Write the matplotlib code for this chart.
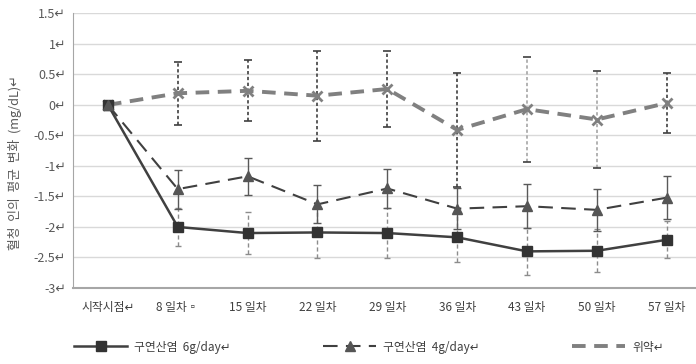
import numpy as np
import matplotlib
matplotlib.use("Agg")
import matplotlib.pyplot as plt
from matplotlib.lines import Line2D

plt.rcParams['font.family'] = ['Noto Sans CJK KR', 'DejaVu Sans']

# x categories
days = ["시작시점↵", "8 일차▫", "15 일차", "22 일차", "29 일차", "36 일차", "43 일차", "50 일차", "57 일차"]

# mean change (mg/dL) and error
dose6 = [0, -2.00, -2.10, -2.09, -2.10, -2.17, -2.40, -2.39, -2.21]
dose6_err = [0, 0.31, 0.34, 0.42, 0.41, 0.41, 0.39, 0.35, 0.30]
dose4 = [0, -1.38, -1.17, -1.63, -1.37, -1.70, -1.66, -1.72, -1.52]
dose4_err = [0, 0.32, 0.30, 0.31, 0.32, 0.33, 0.36, 0.34, 0.35]
placebo = [0, 0.19, 0.23, 0.15, 0.26, -0.41, -0.07, -0.24, 0.03]
placebo_err = [0, 0.52, 0.50, 0.74, 0.63, 0.93, 0.86, 0.79, 0.49]

yticks = [1.5, 1, 0.5, 0, -0.5, -1, -1.5, -2, -2.5, -3]

fig = plt.figure(figsize=(6.96, 3.64), dpi=100)
ax = fig.add_axes([73/696, 1-288/364, (701.7-73)/696, (288-13.3)/364])

x = np.arange(len(days))

# error bars
eb = ax.errorbar(x[1:], dose6[1:], yerr=dose6_err[1:], fmt='none', ecolor='#8c8c8c',
                 elinewidth=1.0, capsize=2.5, capthick=1.0, zorder=2)
eb[2][0].set_linestyle((0, (3, 2)))
eb = ax.errorbar(x[1:], dose4[1:], yerr=dose4_err[1:], fmt='none', ecolor='#595959',
                 elinewidth=1.0, capsize=3, capthick=1.0, zorder=2)
eb = ax.errorbar(x[1:], placebo[1:], yerr=placebo_err[1:], fmt='none', ecolor='#404040',
                 elinewidth=1.2, capsize=3, capthick=1.2, zorder=2)
eb[2][0].set_linestyle((0, (2, 1.5)))
eb[2][0].set_color(['#404040', '#404040', '#404040', '#404040', '#404040',
                    '#a6a6a6', '#a6a6a6', '#404040'])

# lines
l1, = ax.plot(x, dose6, color='#404040', lw=1.8, marker='s', ms=7,
              mfc='#333333', mec='#333333', zorder=4)
l2, = ax.plot(x, dose4, color='#404040', lw=1.5, ls=(0, (7, 4)), marker='^', ms=7,
              mfc='#555555', mec='#555555', zorder=4)
l3, = ax.plot(x, placebo, color='#808080', lw=2.8, ls=(0, (3.5, 2.2)), marker='x', ms=7.5,
              mew=2, mfc='#808080', mec='#808080', zorder=3)

ax.set_xlim(-0.5, len(days) - 0.5)
ax.set_ylim(-3, 1.5)
ax.set_yticks(yticks)
ax.set_yticklabels([f"{t:g}↵" for t in yticks], color='#595959', fontsize=9)
ax.set_xticks(x)
ax.set_xticklabels(days, color='#404040', fontsize=8.5)
ax.tick_params(length=0, pad=5)
ax.tick_params(axis='x', pad=9)
ax.grid(axis='y', color='#d9d9d9', lw=1)
ax.set_axisbelow(True)
for s in ['top', 'right']:
    ax.spines[s].set_visible(False)
ax.spines['left'].set_color('#a6a6a6')
ax.spines['bottom'].set_color('#a6a6a6')
ax.spines['bottom'].set_linewidth(1.5)

fig.text(15/696, 1-163/364, "혈청  인의  평균  변화  (mg/dL)↵", rotation=90,
         ha='center', va='center', fontsize=9.2, color='#595959')

h3 = Line2D([], [], color='#808080', lw=2.8, ls=(0, (3.5, 2.2)))
fig.legend([l1, l2, h3], ["구연산염  6g/day↵", "구연산염  4g/day↵", "위약↵"],
           loc='center', bbox_to_anchor=(0.53, 1-347/364), ncol=3, frameon=False,
           fontsize=8.5, handlelength=4.5, columnspacing=7.8, handletextpad=0.6,
           labelcolor='#404040')

fig.savefig("out.png", dpi=100)
